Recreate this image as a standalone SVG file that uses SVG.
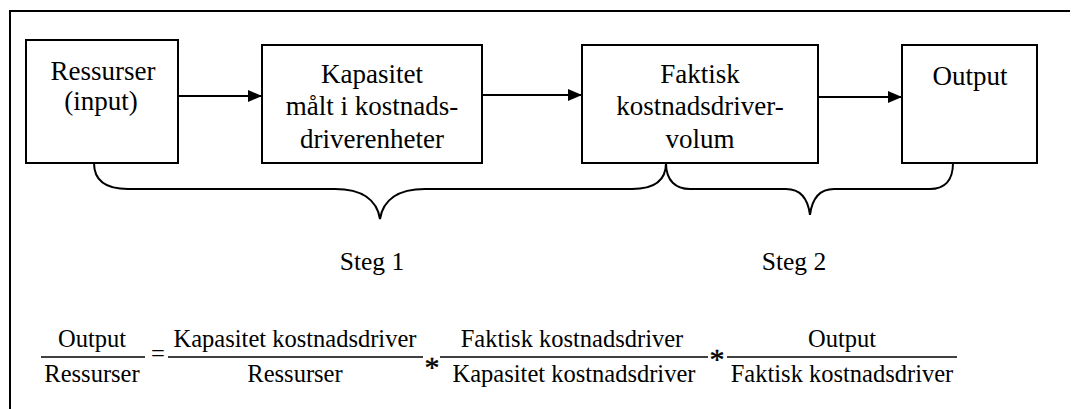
<svg xmlns="http://www.w3.org/2000/svg" width="1075" height="409" viewBox="0 0 1075 409">
  <style>
    .frame { fill: none; stroke: #000; stroke-width: 2; }
    .box { fill: #fff; stroke: #000; stroke-width: 2; }
    .edge { fill: none; stroke: #000; stroke-width: 2; }
    .brace { fill: none; stroke: #000; stroke-width: 2; }
    .lbl { font-family: "Liberation Serif", "Times New Roman", serif; font-size: 27px; fill: #000; text-anchor: middle; }
    .step { font-family: "Liberation Serif", "Times New Roman", serif; font-size: 25.5px; fill: #000; text-anchor: middle; }
    .eq { font-family: "Liberation Serif", "Times New Roman", serif; font-size: 24.5px; fill: #000; text-anchor: middle; }
    .op { font-family: "Liberation Serif", "Times New Roman", serif; font-size: 30px; fill: #000; text-anchor: middle; stroke: #000; stroke-width: 0.4; }
    .bar { stroke: #000; stroke-width: 1.6; }
  </style>
  <defs>
    <marker id="arrow" viewBox="0 0 14 12" refX="14" refY="6" markerWidth="14" markerHeight="12" markerUnits="userSpaceOnUse" orient="auto">
      <path d="M0,0 L14,6 L0,12 Z" fill="#000"/>
    </marker>
  </defs>

  <rect width="1075" height="409" fill="#fff"/>

  <!-- outer frame: top and left rules -->
  <path class="frame" d="M10,409 L10,11 L1070,11"/>

  <!-- process chain -->
  <g id="node-ressurser">
    <rect class="box" x="26" y="40" width="152" height="123"/>
    <text class="lbl" x="103" y="80">Ressurser</text>
    <text class="lbl" x="101" y="110">(input)</text>
  </g>
  <g id="node-kapasitet">
    <rect class="box" x="262" y="45" width="220" height="118"/>
    <text class="lbl" x="372" y="83">Kapasitet</text>
    <text class="lbl" x="372" y="115">målt i kostnads-</text>
    <text class="lbl" x="372" y="148">driverenheter</text>
  </g>
  <g id="node-faktisk">
    <rect class="box" x="582" y="45" width="236" height="118"/>
    <text class="lbl" x="700" y="83">Faktisk</text>
    <text class="lbl" x="700" y="115">kostnadsdriver-</text>
    <text class="lbl" x="700" y="148">volum</text>
  </g>
  <g id="node-output">
    <rect class="box" x="902" y="45" width="135" height="118"/>
    <text class="lbl" x="970" y="85">Output</text>
  </g>

  <g id="connectors">
    <line class="edge" x1="178" y1="96" x2="262" y2="96" marker-end="url(#arrow)"/>
    <line class="edge" x1="482" y1="95" x2="582" y2="95" marker-end="url(#arrow)"/>
    <line class="edge" x1="818" y1="97" x2="902" y2="97" marker-end="url(#arrow)"/>
  </g>

  <!-- step braces -->
  <g id="brace-steg1">
    <path class="brace" d="M94,163 C94,181 106,189 128,189 L335,189 C362,189 377,200 380,219 C383,200 398,189 425,189 L632,189 C654,189 666,181 666,163"/>
    <text class="step" x="372" y="270">Steg 1</text>
  </g>
  <g id="brace-steg2">
    <path class="brace" d="M666,163 C666,181 676,189 690,189 L786,189 C801,189 808,199 810,215 C812,199 819,189 834,189 L930,189 C944,189 953,181 953,163"/>
    <text class="step" x="794" y="270">Steg 2</text>
  </g>

  <!-- decomposition formula -->
  <g id="formula">
    <text class="eq" x="92" y="347">Output</text>
    <line class="bar" x1="41" y1="357" x2="145" y2="357"/>
    <text class="eq" x="92" y="382">Ressurser</text>

    <text class="eq" x="158" y="362">=</text>

    <text class="eq" x="295" y="347">Kapasitet kostnadsdriver</text>
    <line class="bar" x1="168" y1="357" x2="423" y2="357"/>
    <text class="eq" x="295" y="382">Ressurser</text>

    <text class="op" x="432" y="377">*</text>

    <text class="eq" x="572" y="347">Faktisk kostnadsdriver</text>
    <line class="bar" x1="440" y1="357" x2="708" y2="357"/>
    <text class="eq" x="574" y="382">Kapasitet kostnadsdriver</text>

    <text class="op" x="717" y="369">*</text>

    <text class="eq" x="842" y="347">Output</text>
    <line class="bar" x1="727" y1="357" x2="957" y2="357"/>
    <text class="eq" x="842" y="382">Faktisk kostnadsdriver</text>
  </g>
</svg>
